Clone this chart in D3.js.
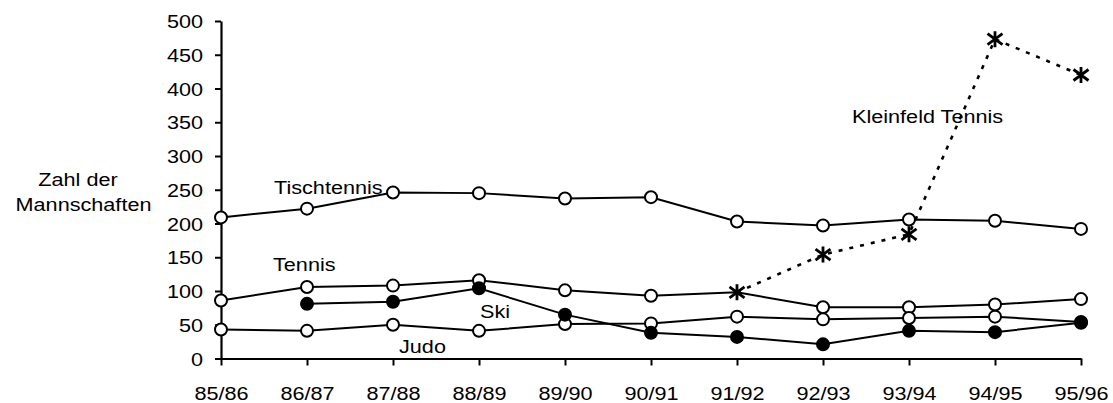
<!DOCTYPE html>
<html>
<head>
<meta charset="utf-8">
<script src="https://cdn.jsdelivr.net/npm/d3@7"></script>
<style>
  html, body { margin: 0; padding: 0; background: #fff; }
  svg { display: block; }
  text { font-family: "Liberation Sans", Arial, sans-serif; fill: #000; }
</style>
</head>
<body>
<script>
// ---- data ----
const seasons = ["85/86","86/87","87/88","88/89","89/90","90/91","91/92","92/93","93/94","94/95","95/96"];
const yTicks = [0,50,100,150,200,250,300,350,400,450,500];
const tischtennis = [209,222,246,245,237,239,203,197,206,204,192];
const tennis      = [86,106,108,116,101,93,98,76,76,80,88];
const judo        = [43,41,50,41,51,52,62,58,60,62,54];
const ski         = [null,81,84,104,65,38,32,21,41,39,53];
const kleinfeld   = [null,null,null,null,null,null,98,154,184,473,420];
const yTitle = ["Zahl der","Mannschaften"];

// ---- layout ----
const W = 1113, H = 403;
const FS = 18.5, SX = 1.17;
const svg = d3.select("body").append("svg").attr("width", W).attr("height", H);

const x = d3.scalePoint().domain(seasons).range([221, 1081]);
const y = d3.scaleLinear().domain([0, 500]).range([358.5, 21]);

function label(px, py, str, anchor) {
  return svg.append("text")
    .attr("transform", `translate(${px},${py}) scale(${SX},1)`)
    .attr("text-anchor", anchor || "start")
    .style("font-size", FS + "px")
    .text(str);
}

// axes
const yAxis = svg.append("g").attr("transform", `translate(${x(seasons[0])},0)`)
  .call(d3.axisLeft(y).tickValues(yTicks).tickSize(6).tickSizeOuter(0));
yAxis.select(".domain").attr("stroke-width", 2.2);
yAxis.selectAll(".tick line").attr("stroke-width", 2);
yAxis.selectAll(".tick text")
  .attr("x", 0).attr("dy", "0.36em")
  .attr("transform", `translate(-18,0) scale(${SX},1)`)
  .style("font-size", FS + "px").style("font-family", "Liberation Sans, Arial, sans-serif");

const xAxis = svg.append("g").attr("transform", `translate(0,${y(0)})`)
  .call(d3.axisBottom(x).tickSize(7).tickSizeOuter(0));
xAxis.select(".domain").attr("stroke-width", 2.2);
xAxis.selectAll(".tick line").attr("stroke-width", 2);
xAxis.selectAll(".tick text")
  .attr("y", 0).attr("dy", 0)
  .attr("transform", `translate(0,41) scale(${SX},1)`)
  .style("font-size", FS + "px").style("font-family", "Liberation Sans, Arial, sans-serif");

// lines
function drawLine(vals, dash) {
  const idx = vals.map((v, i) => [v, i]);
  svg.append("path")
    .attr("d", d3.line().defined(d => d[0] != null).x(d => x(seasons[d[1]])).y(d => y(d[0]))(idx))
    .attr("fill", "none").attr("stroke", "#000").attr("stroke-width", dash ? 2.6 : 2)
    .attr("stroke-dasharray", dash ? "4,7" : null);
}
function drawCircles(vals, fill, skip) {
  vals.forEach((v, i) => {
    if (v == null || (skip && skip(i))) return;
    svg.append("circle").attr("cx", x(seasons[i])).attr("cy", y(v)).attr("r", 6)
      .attr("fill", fill).attr("stroke", "#000").attr("stroke-width", 2);
  });
}

drawLine(tischtennis);
drawLine(tennis);
drawLine(judo);
drawLine(ski);
drawLine(kleinfeld, true);

drawCircles(tischtennis, "#fff");
drawCircles(tennis, "#fff", i => kleinfeld[i] != null && Math.abs(kleinfeld[i] - tennis[i]) < 5);
drawCircles(judo, "#fff");
drawCircles(ski, "#000");

kleinfeld.forEach((v, i) => {
  if (v == null) return;
  svg.append("path")
    .attr("transform", `translate(${x(seasons[i])},${y(v)})`)
    .attr("d", "M0,-8V8M-7.5,-5.5L7.5,5.5M-7.5,5.5L7.5,-5.5")
    .attr("fill", "none").attr("stroke", "#000").attr("stroke-width", 2.8);
});

// series labels
label(274, 194, "Tischtennis");
label(273, 271, "Tennis");
label(480, 318, "Ski");
label(399, 353, "Judo");
label(852, 122.5, "Kleinfeld Tennis");

// y title
label(78, 185.5, yTitle[0], "middle");
label(83.5, 211, yTitle[1], "middle");
</script>
</body>
</html>
